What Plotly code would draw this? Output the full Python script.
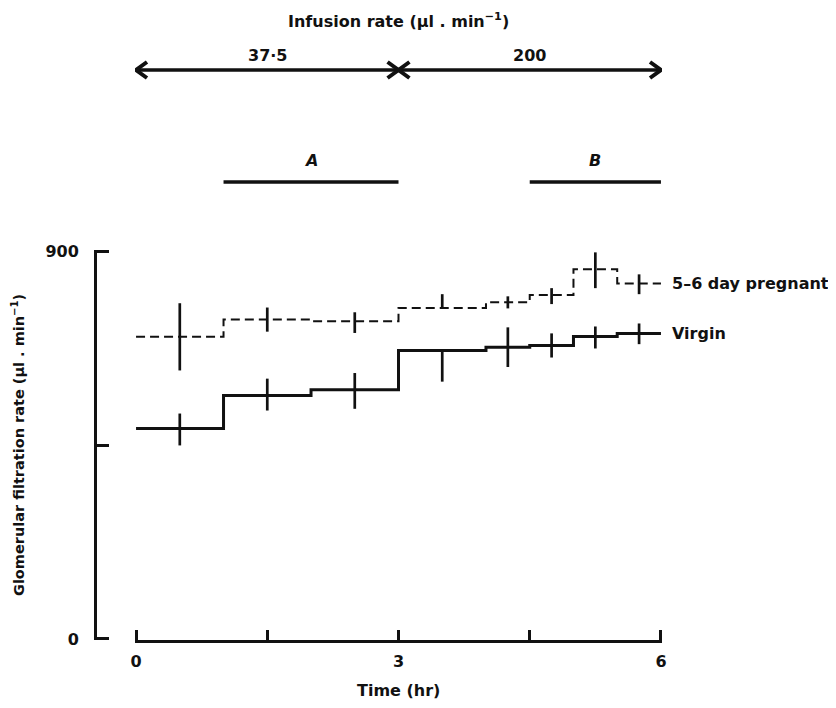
import plotly.graph_objects as go

# ---- data ----
time_edges = [0, 1, 2, 3, 4, 4.5, 5, 5.5, 6]          # hr, step boundaries
virgin_gfr = [488, 565, 578, 669, 677, 681, 702, 709]   # µl/min
virgin_err_up = [35, 39, 39, 0, 46, 28, 23, 23]
virgin_err_down = [39, 35, 44, 72, 46, 28, 28, 25]
pregnant_gfr = [701, 741, 737, 768, 781, 798, 858, 825]
pregnant_err_up = [78, 28, 21, 32, 14, 16, 39, 21]
pregnant_err_down = [78, 28, 27, 0, 14, 21, 44, 25]

x_ticks = [0, 3, 6]
x_tick_labels = ["0", "3", "6"]
x_minor_ticks = [1.5, 4.5]
y_ticks = [0, 900]
y_tick_labels = ["0", "900"]
y_minor_ticks = [450]

infusion_periods = [(0, 3, "37·5"), (3, 6, "200")]
collection_periods = [(1, 3, "A"), (4.5, 6, "B")]

# ---- style / layout constants ----
FONT = "DejaVu Sans"
INK = "#111111"
tf = dict(family=FONT, size=16, color=INK, weight="bold")
tf_y = dict(family=FONT, size=14.5, color=INK, weight="bold")
tfi = dict(family=FONT, size=16, color=INK, weight="bold", style="italic")

# top band (yaxis2) uses a reversed range so that units ~ pixels from the top
ARROW_Y = 60
RATE_LABEL_Y = 45
TITLE_Y = 10
BAR_Y = 172
BAR_LABEL_Y = 150
CHEV_DX = 0.125   # hr
CHEV_DY = 8
X_PAD = 0.012     # small range padding so end ticks are drawn
Y_PAD = 2.5

mids = [(time_edges[i] + time_edges[i + 1]) / 2 for i in range(len(time_edges) - 1)]

fig = go.Figure()


def add_series(vals, up, down, dash, width):
    fig.add_trace(go.Scatter(
        x=time_edges, y=vals + [vals[-1]], mode="lines", line_shape="hv",
        line=dict(color=INK, width=width, dash=dash),
        showlegend=False, hoverinfo="skip"))
    fig.add_trace(go.Scatter(
        x=mids, y=vals, mode="markers", marker=dict(size=1, color=INK, opacity=0),
        error_y=dict(type="data", array=up, arrayminus=down, symmetric=False,
                     color=INK, thickness=2.7, width=0),
        showlegend=False, hoverinfo="skip"))


add_series(pregnant_gfr, pregnant_err_up, pregnant_err_down, "9px,5px", 2)
add_series(virgin_gfr, virgin_err_up, virgin_err_down, "solid", 3)

# infusion double arrows
for x0, x1, lab in infusion_periods:
    fig.add_trace(go.Scatter(
        x=[x0, x1], y=[ARROW_Y, ARROW_Y], yaxis="y2", mode="lines",
        line=dict(color=INK, width=3.5), cliponaxis=False,
        showlegend=False, hoverinfo="skip"))
    for tip, sgn in ((x0, 1), (x1, -1)):
        fig.add_trace(go.Scatter(
            x=[tip + sgn * CHEV_DX, tip, tip + sgn * CHEV_DX],
            y=[ARROW_Y - CHEV_DY, ARROW_Y, ARROW_Y + CHEV_DY], yaxis="y2",
            mode="lines", line=dict(color=INK, width=4), cliponaxis=False,
            showlegend=False, hoverinfo="skip"))

# collection period bars
for x0, x1, lab in collection_periods:
    fig.add_trace(go.Scatter(
        x=[x0, x1], y=[BAR_Y, BAR_Y], yaxis="y2", mode="lines",
        line=dict(color=INK, width=3.5), cliponaxis=False,
        showlegend=False, hoverinfo="skip"))

annotations = []
annotations.append(dict(x=6, y=pregnant_gfr[-1], xref="x", yref="y", text="5–6 day pregnant",
                        showarrow=False, xanchor="left", yanchor="middle", xshift=9, font=tf))
annotations.append(dict(x=6, y=virgin_gfr[-1], xref="x", yref="y", text="Virgin",
                        showarrow=False, xanchor="left", yanchor="middle", xshift=9, font=tf))
annotations.append(dict(x=3, y=-50 / 630.0, xref="x", yref="paper", text="Time (hr)",
                        showarrow=False, xanchor="center", yanchor="middle", font=tf))
annotations.append(dict(x=(10 - 87) / 567.0, y=195 / 630.0, xref="paper", yref="paper",
                        text="Glomerular filtration rate (μl . min<sup>−1</sup>)",
                        textangle=-90, showarrow=False, xanchor="center", yanchor="middle",
                        font=tf_y))
annotations.append(dict(x=3, y=TITLE_Y, xref="x", yref="y2",
                        text="Infusion rate (μl . min<sup>−1</sup>)", showarrow=False,
                        xanchor="center", yanchor="middle", font=tf))
for x0, x1, lab in infusion_periods:
    annotations.append(dict(x=(x0 + x1) / 2, y=RATE_LABEL_Y, xref="x", yref="y2", text=lab,
                            showarrow=False, xanchor="center", yanchor="middle", font=tf))
for x0, x1, lab in collection_periods:
    annotations.append(dict(x=(x0 + x1) / 2, y=BAR_LABEL_Y, xref="x", yref="y2",
                            text=lab, showarrow=False, xanchor="center", yanchor="middle",
                            font=tfi))

fig.update_layout(
    width=828, height=700,
    margin=dict(l=87, r=174, t=2, b=68),
    paper_bgcolor="white", plot_bgcolor="white",
    font=tf,
    showlegend=False,
    annotations=annotations,
    xaxis=dict(domain=[40 / 567.0, 1], range=[-X_PAD, 6 + X_PAD], showgrid=False,
               zeroline=False,
               showline=True, linecolor=INK, linewidth=2.5, automargin=False,
               tickvals=x_ticks, ticktext=x_tick_labels, ticks="inside", ticklen=10,
               tickwidth=2.5, tickcolor=INK, ticklabelstandoff=5, tickfont=tf,
               minor=dict(tickvals=x_minor_ticks, ticks="inside", ticklen=10,
                          tickwidth=2.5, tickcolor=INK, showgrid=False)),
    yaxis=dict(domain=[0, 390 / 630.0], range=[-Y_PAD, 900 + Y_PAD], anchor="free",
               position=0,
               showgrid=False, zeroline=False, showline=True, linecolor=INK, linewidth=3,
               automargin=False,
               tickvals=y_ticks, ticktext=y_tick_labels, ticks="inside", ticklen=12,
               tickwidth=3, tickcolor=INK, ticklabelstandoff=12, tickfont=tf,
               minor=dict(tickvals=y_minor_ticks, ticks="inside", ticklen=12,
                          tickwidth=3, tickcolor=INK, showgrid=False)),
    yaxis2=dict(domain=[390 / 630.0, 1], range=[240, 0], anchor="x", visible=False,
                automargin=False),
)

fig.write_html("out.html")
